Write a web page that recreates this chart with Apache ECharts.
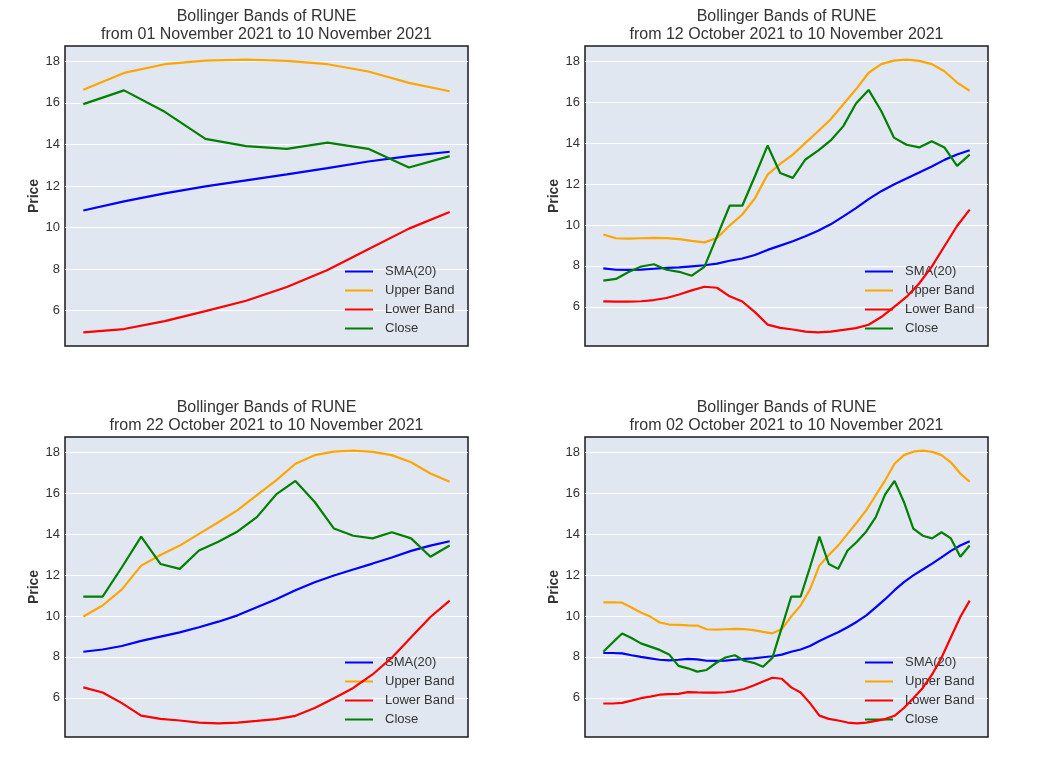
<!DOCTYPE html>
<html lang="en">
<head>
<meta charset="UTF-8">
<title>Bollinger Bands of RUNE</title>
<script src="https://cdn.jsdelivr.net/npm/echarts@6/dist/echarts.min.js"></script>
<style>
    html, body { margin: 0; padding: 0; background: #ffffff; }
    #chart { width: 1040px; height: 780px; }
</style>
</head>
<body>
<div id="chart"></div>
<script>
// daily values, 02 Oct 2021 .. 10 Nov 2021 (40 days)
var closePrice = [8.25, 8.70, 9.14, 8.92, 8.66, 8.50, 8.34, 8.12, 7.56, 7.44,
                  7.28, 7.36, 7.70, 7.97, 8.08, 7.81, 7.71, 7.52, 7.95, 9.44,
                  10.94, 10.94, 12.38, 13.88, 12.54, 12.30, 13.20, 13.63, 14.13, 14.83,
                  15.94, 16.60, 15.57, 14.27, 13.92, 13.79, 14.09, 13.79, 12.89, 13.44];
var sma20 = [8.19, 8.19, 8.17, 8.08, 8.00, 7.93, 7.86, 7.83, 7.86, 7.90,
             7.88, 7.81, 7.80, 7.82, 7.86, 7.90, 7.93, 7.98, 8.03, 8.11,
             8.25, 8.36, 8.53, 8.78, 8.99, 9.20, 9.45, 9.72, 10.03, 10.42,
             10.82, 11.26, 11.65, 11.98, 12.27, 12.56, 12.86, 13.18, 13.44, 13.65];
var upperBand = [10.66, 10.67, 10.65, 10.41, 10.17, 9.97, 9.68, 9.58, 9.56, 9.54,
                 9.53, 9.35, 9.33, 9.35, 9.37, 9.36, 9.31, 9.22, 9.15, 9.36,
                 9.97, 10.51, 11.30, 12.46, 12.98, 13.44, 14.01, 14.58, 15.17, 15.90,
                 16.63, 17.44, 17.86, 18.03, 18.08, 18.02, 17.86, 17.51, 16.96, 16.56];
var lowerBand = [5.72, 5.72, 5.75, 5.86, 5.98, 6.06, 6.15, 6.18, 6.19, 6.28,
                 6.26, 6.25, 6.25, 6.27, 6.33, 6.43, 6.60, 6.80, 6.98, 6.93,
                 6.51, 6.26, 5.74, 5.13, 4.97, 4.89, 4.79, 4.75, 4.79, 4.87,
                 4.96, 5.12, 5.50, 5.98, 6.48, 7.14, 7.96, 8.96, 9.95, 10.75];

var endDate = '10 November 2021';
var panelStarts = ['01 November 2021', '12 October 2021', '22 October 2021', '02 October 2021'];
var panelDays = [10, 30, 20, 40];
var yTicks = [6, 8, 10, 12, 14, 16, 18];
var seriesNames = ['SMA(20)', 'Upper Band', 'Lower Band', 'Close'];
var seriesColors = ['blue', 'orange', 'red', 'green'];

var FONT = 'Liberation Sans, Arial, sans-serif';
var boxes = [
    { left: 65, top: 46 },
    { left: 585, top: 46 },
    { left: 65, top: 437 },
    { left: 585, top: 437 }
];
var boxW = 403, boxH = 300;

var chart = echarts.init(document.getElementById('chart'));

var grids = [], xAxes = [], yAxes = [], series = [], legends = [], texts = [];

boxes.forEach(function (box, p) {
    var n = panelDays[p];
    var from = closePrice.length - n;
    var cols = [sma20, upperBand, lowerBand, closePrice].map(function (arr) {
        return arr.slice(from);
    });
    // matplotlib-like auto range: data extent plus 5% each side
    var all = [].concat.apply([], cols);
    var lo = Math.min.apply(null, all), hi = Math.max.apply(null, all);
    var pad = (hi - lo) * 0.05;

    grids.push({
        left: box.left, top: box.top, width: boxW, height: boxH,
        show: true, backgroundColor: '#e1e7f1',
        borderColor: '#1a1a1a', borderWidth: 1.5
    });
    xAxes.push({
        type: 'value', gridIndex: p,
        min: -0.05 * (n - 1), max: 1.05 * (n - 1),
        axisLine: { show: false }, axisTick: { show: false },
        axisLabel: { show: false }, splitLine: { show: false }
    });
    yAxes.push({
        type: 'value', gridIndex: p,
        min: lo - pad, max: hi + pad,
        name: 'Price', nameLocation: 'middle', nameGap: 24,
        nameTextStyle: { fontFamily: FONT, fontSize: 14, fontWeight: 'bold', color: '#333' },
        axisLine: { show: false },
        axisTick: { show: false, customValues: yTicks },
        axisLabel: { customValues: yTicks, fontFamily: FONT, fontSize: 13, color: '#333', margin: 5 },
        splitLine: { show: true, lineStyle: { color: '#ffffff', width: 1 } }
    });
    cols.forEach(function (vals, k) {
        series.push({
            name: seriesNames[k], type: 'line',
            xAxisIndex: p, yAxisIndex: p,
            data: vals.map(function (v, i) { return [i, v]; }),
            symbol: 'none', color: seriesColors[k],
            lineStyle: { width: 2.2, color: seriesColors[k] },
            z: 2 + k, animation: false
        });
    });
    legends.push({
        orient: 'vertical',
        left: box.left + 280, top: box.top + 219,
        padding: 0, itemGap: 6,
        icon: 'rect', itemWidth: 28, itemHeight: 2,
        data: seriesNames,
        textStyle: { fontFamily: FONT, fontSize: 13, color: '#333', padding: [0, 0, 0, 7] }
    });
    texts.push({
        type: 'text',
        x: box.left + boxW / 2, y: box.top - 38,
        style: {
            text: 'Bollinger Bands of RUNE\nfrom ' + panelStarts[p] + ' to ' + endDate,
            textAlign: 'center', textVerticalAlign: 'top',
            fontFamily: FONT, fontSize: 16, lineHeight: 18, fill: '#333'
        }
    });
});

chart.setOption({
    animation: false,
    grid: grids,
    xAxis: xAxes,
    yAxis: yAxes,
    legend: legends,
    series: series,
    graphic: texts
});
</script>
</body>
</html>
